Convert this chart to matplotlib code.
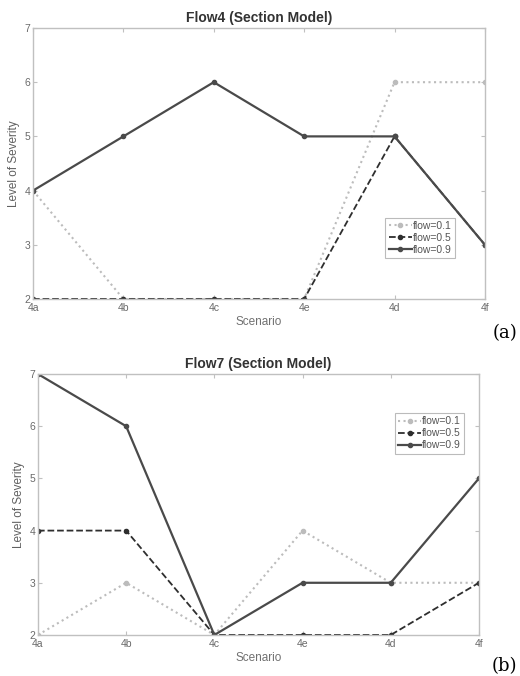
import matplotlib
matplotlib.use('Agg')
import matplotlib.pyplot as plt

plt.rcParams['font.family'] = ['Liberation Sans', 'DejaVu Sans']

scenarios = ['4a', '4b', '4c', '4e', '4d', '4f']
labels = ['flow=0.1', 'flow=0.5', 'flow=0.9']

# Flow4 (Section Model)
flow4_01 = [4, 2, 2, 2, 6, 6]
flow4_05 = [2, 2, 2, 2, 5, 3]
flow4_09 = [4, 5, 6, 5, 5, 3]

# Flow7 (Section Model)
flow7_01 = [2, 3, 2, 4, 3, 3]
flow7_05 = [4, 4, 2, 2, 2, 3]
flow7_09 = [7, 6, 2, 3, 3, 5]

styles = [
    dict(color='#bcbcbc', linestyle=':', linewidth=1.5, marker='o', markersize=3),
    dict(color='#2e2e2e', linestyle='--', linewidth=1.3, marker='o', markersize=3),
    dict(color='#4a4a4a', linestyle='-', linewidth=1.6, marker='o', markersize=3),
]

fig = plt.figure(figsize=(5.2, 6.76), dpi=100)
ax1 = fig.add_axes([0.0635, 0.5577, 0.869, 0.4009])
ax2 = fig.add_axes([0.073, 0.0607, 0.848, 0.386])


def draw(ax, title, series, legend_pos):
    x = range(len(scenarios))
    for vals, lab, st in zip(series, labels, styles):
        ax.plot(x, vals, label=lab, **st)
    ax.set_xlim(0, len(scenarios) - 1)
    ax.set_ylim(2, 7)
    ax.set_xticks(list(x))
    ax.set_xticklabels(scenarios)
    ax.set_yticks([2, 3, 4, 5, 6, 7])
    ax.tick_params(direction='in', top=True, right=True, length=3,
                   colors='#c0c0c0', labelcolor='#6a6a6a', labelsize=7.5)
    ax.tick_params(axis='x', pad=3)
    ax.tick_params(axis='y', pad=2)
    for s in ax.spines.values():
        s.set_color('#c0c0c0')
        s.set_linewidth(1.0)
    ax.set_title(title, fontsize=10, fontweight='bold', color='#333333', pad=4)
    ax.set_xlabel('Scenario', fontsize=8.5, color='#707070', labelpad=2)
    ax.set_ylabel('Level of Severity', fontsize=8.5, color='#606060', labelpad=3)
    leg = ax.legend(loc='upper left', bbox_to_anchor=legend_pos, fontsize=7.5,
                    frameon=True, fancybox=False, handlelength=2.2,
                    handletextpad=0.1, borderpad=0.3, labelspacing=0.2,
                    borderaxespad=0)
    leg.get_frame().set_edgecolor('#aaaaaa')
    leg.get_frame().set_linewidth(0.8)
    for t in leg.get_texts():
        t.set_color('#555555')


draw(ax1, 'Flow4 (Section Model)', [flow4_01, flow4_05, flow4_09], (0.78, 0.30))
draw(ax2, 'Flow7 (Section Model)', [flow7_01, flow7_05, flow7_09], (0.81, 0.85))

fig.text(0.948, 0.508, '(a)', fontsize=13, family='DejaVu Serif', va='center')
fig.text(0.945, 0.015, '(b)', fontsize=13, family='DejaVu Serif', va='center')

fig.savefig('out.png', dpi=100)
